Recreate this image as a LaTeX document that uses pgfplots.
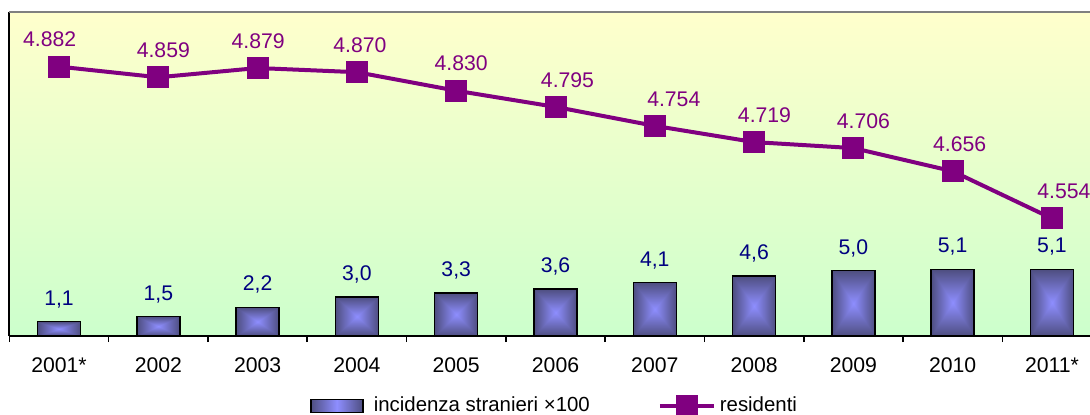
\documentclass[border=0pt]{standalone}
\usepackage{fontspec}
\setmainfont{Liberation Sans}
\usepackage{pgfplots}
\pgfplotsset{compat=1.18}
\usepackage{pgfplotstable}
\usetikzlibrary{calc}

\definecolor{bgtop}{RGB}{255,255,204}
\definecolor{bgbot}{RGB}{204,255,204}
\definecolor{resid}{RGB}{128,0,128}
\definecolor{navy}{RGB}{0,0,128}
\definecolor{bardark}{RGB}{78,78,128}
\definecolor{barlight}{RGB}{142,142,255}

\pgfplotsset{
  lineleg/.style={legend image code/.code={\draw[mark repeat=2, mark phase=2, ##1] plot coordinates {(0pt,0pt) (13.5pt,0pt) (27pt,0pt)};}},
  barleg/.style={legend image code/.code={\draw[draw=black, line width=0.8pt, left color=bardark, right color=bardark, middle color=barlight] (0pt,-3.2pt) rectangle (26pt,3.2pt); \node[draw=none, fill=none, inner sep=0pt, minimum size=0pt] at (29.5pt,0pt) {};}},
}

\pgfplotstableread{
x bar barlab res reslab dx
0  1.1 1,1 4.882 4.882 -4.7
1  1.5 1,5 4.859 4.859 2.5
2  2.2 2,2 4.879 4.879 0.3
3  3.0 3,0 4.870 4.870 1.5
4  3.3 3,3 4.830 4.830 2.5
5  3.6 3,6 4.795 4.795 6
6  4.1 4,1 4.754 4.754 9.5
7  4.6 4,6 4.719 4.719 5.2
8  5.0 5,0 4.706 4.706 5
9  5.1 5,1 4.656 4.656 3.5
10 5.1 5,1 4.554 4.554 6
}\data

\begin{document}
\begin{tikzpicture}
\begin{axis}[
  name=ax,
  scale only axis, width=546.1pt, height=162pt,
  xmin=-0.5, xmax=10.5, ymin=0, ymax=24.8,
  axis background/.style={shade, top color=bgtop, bottom color=bgbot},
  axis x line*=bottom, axis y line*=left,
  axis line style={-, black, line width=1pt},
  ytick=\empty,
  xtick={0,...,10},
  xticklabels={2001*,2002,2003,2004,2005,2006,2007,2008,2009,2010,2011*},
  minor xtick={-0.5,0.5,...,10.5},
  tick align=outside,
  major tick length=0pt, minor tick length=3pt,
  tick style={black, line width=0.8pt},
  xticklabel style={font=\fontsize{10.6}{12}\selectfont, anchor=center, yshift=-14.5pt},
  clip=false,
]
\pgfplotsinvokeforeach{0,...,10}{
\addplot[ybar, bar width=21.5pt, bar shift=0pt, draw=black, line width=0.75pt,
  left color=bardark, right color=bardark, middle color=barlight,
  postaction={draw=black, top color=bardark, bottom color=bardark, middle color=barlight, blend mode=darken},
  restrict x to domain=#1:#1,
  nodes near coords, point meta=explicit symbolic,
  nodes near coords style={navy, font=\fontsize{10.6}{12}\selectfont, anchor=base, yshift=8.2pt}]
  table[x=x, y=bar, meta=barlab] {\data};
}
\end{axis}
\begin{axis}[
  scale only axis, width=546.1pt, height=162pt,
  xmin=-0.5, xmax=10.5, ymin=4.3, ymax=5.0,
  hide axis, clip=false,
  legend columns=2,
  legend style={at={(0.5,-0.216)}, anchor=center, draw=none, fill=none,
    font=\fontsize{10.2}{12}\selectfont,
    /tikz/every even column/.append style={column sep=32pt}},
]
\addlegendimage{barleg}
\addlegendentry{incidenza stranieri ×100}
\addplot[resid, line width=2pt, mark=square*, mark size=4.5pt, mark options={solid, fill=resid},
  nodes near coords, point meta=explicit symbolic,
  visualization depends on={\thisrow{dx}\as\dxval},
  nodes near coords style={resid, font=\fontsize{10.6}{12}\selectfont, anchor=base, yshift=9.9pt, xshift=\dxval pt},
  lineleg]
  table[x=x, y=res, meta=reslab] {\data};
\addlegendentry{residenti}
\end{axis}
\draw[gray, line width=1.2pt] (ax.north west) -- (ax.north east);
\pgfresetboundingbox
\path[use as bounding box] (-4.7pt,-39pt) rectangle (540.3pt,168pt);
\end{tikzpicture}
\end{document}
